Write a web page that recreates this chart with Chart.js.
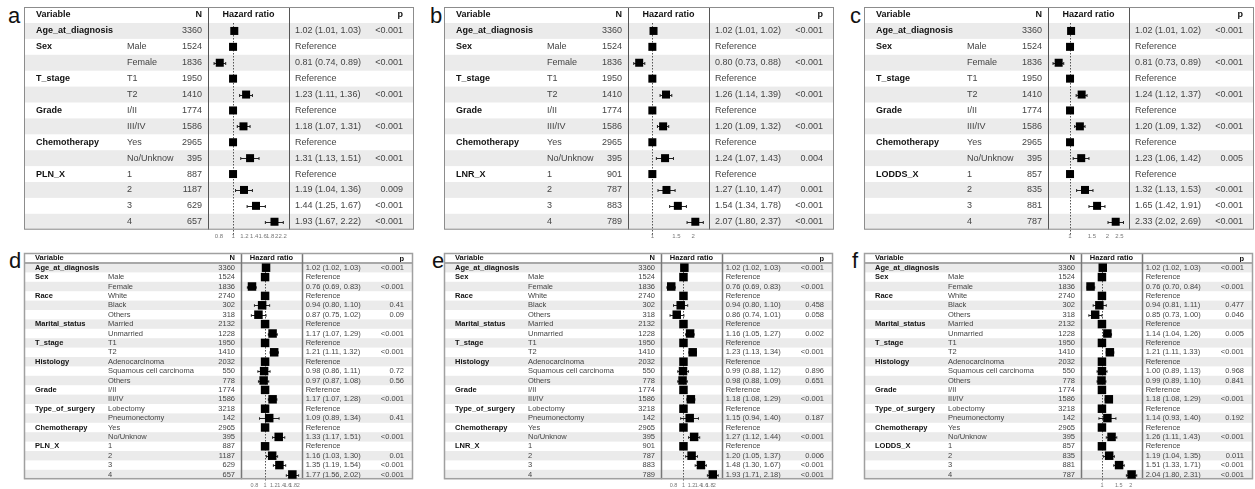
<!DOCTYPE html>
<html>
<head>
<meta charset="utf-8">
<script src="https://cdn.jsdelivr.net/npm/chart.js@4.4.1/dist/chart.umd.min.js"></script>
<style>
  body { margin: 0; background: #fff; width: 1255px; height: 489px; position: relative; overflow: hidden; font-family: "Liberation Sans", Arial, sans-serif; }
  canvas { position: absolute; }
  .tag { position: absolute; font-size: 22px; line-height: 22px; color: #111; }
</style>
</head>
<body>
<div class="tag" style="left:8px;top:5px">a</div>
<div class="tag" style="left:430px;top:5px">b</div>
<div class="tag" style="left:850px;top:5px">c</div>
<div class="tag" style="left:9px;top:250px">d</div>
<div class="tag" style="left:432px;top:250px">e</div>
<div class="tag" style="left:852px;top:250px">f</div>

<canvas id="pa" width="394" height="248" style="left:22px;top:0px"></canvas>
<canvas id="pb" width="394" height="248" style="left:442px;top:0px"></canvas>
<canvas id="pc" width="393" height="248" style="left:862px;top:0px"></canvas>
<canvas id="pd" width="394" height="241" style="left:22px;top:248px"></canvas>
<canvas id="pe" width="394" height="241" style="left:442px;top:248px"></canvas>
<canvas id="pf" width="393" height="241" style="left:862px;top:248px"></canvas>

<script>
// ---- data: top row (a, b, c) ----
const topVars = ['Age_at_diagnosis', 'Sex', '', 'T_stage', '', 'Grade', '', 'Chemotherapy', ''];
const topLevels = ['', 'Male', 'Female', 'T1', 'T2', 'I/II', 'III/IV', 'Yes', 'No/Unknow', '1', '2', '3', '4'];
const topN = [3360, 1524, 1836, 1950, 1410, 1774, 1586, 2965, 395];

// ---- data: bottom row (d, e, f) ----
const botVars = ['Age_at_diagnosis', 'Sex', '', 'Race', '', '', 'Marital_status', '', 'T_stage', '',
  'Histology', '', '', 'Grade', '', 'Type_of_surgery', '', 'Chemotherapy', ''];
const botLevels = ['', 'Male', 'Female', 'White', 'Black', 'Others', 'Married', 'Unmarried', 'T1', 'T2',
  'Adenocarcinoma', 'Squamous cell carcinoma', 'Others', 'I/II', 'III/IV', 'Lobectomy', 'Pneumonectomy',
  'Yes', 'No/Unknow', '1', '2', '3', '4'];
const botN = [3360, 1524, 1836, 2740, 302, 318, 2132, 1228, 1950, 1410, 2032, 550, 778, 1774, 1586, 3218, 142, 2965, 395];

const plnN = [887, 1187, 629, 657];
const lnrN = [901, 787, 883, 789];
const loddsN = [857, 835, 881, 787];

// panel a (PLN_X)
const hrA = [1.02, 1, 0.81, 1, 1.23, 1, 1.18, 1, 1.31, 1, 1.19, 1.44, 1.93];
const loA = [1.01, null, 0.74, null, 1.11, null, 1.07, null, 1.13, null, 1.04, 1.25, 1.67];
const upA = [1.03, null, 0.89, null, 1.36, null, 1.31, null, 1.51, null, 1.36, 1.67, 2.22];
const pA = ['<0.001', '', '<0.001', '', '<0.001', '', '<0.001', '', '<0.001', '', '0.009', '<0.001', '<0.001'];
const ticksA = [0.8, 1, 1.2, 1.4, 1.6, 1.8, 2, 2.2];

// panel b (LNR_X)
const hrB = [1.02, 1, 0.80, 1, 1.26, 1, 1.20, 1, 1.24, 1, 1.27, 1.54, 2.07];
const loB = [1.01, null, 0.73, null, 1.14, null, 1.09, null, 1.07, null, 1.10, 1.34, 1.80];
const upB = [1.02, null, 0.88, null, 1.39, null, 1.32, null, 1.43, null, 1.47, 1.78, 2.37];
const pB = ['<0.001', '', '<0.001', '', '<0.001', '', '<0.001', '', '0.004', '', '0.001', '<0.001', '<0.001'];
const ticksB = [1, 1.5, 2];

// panel c (LODDS_X)
const hrC = [1.02, 1, 0.81, 1, 1.24, 1, 1.20, 1, 1.23, 1, 1.32, 1.65, 2.33];
const loC = [1.01, null, 0.73, null, 1.12, null, 1.09, null, 1.06, null, 1.13, 1.42, 2.02];
const upC = [1.02, null, 0.89, null, 1.37, null, 1.32, null, 1.42, null, 1.53, 1.91, 2.69];
const pC = ['<0.001', '', '<0.001', '', '<0.001', '', '<0.001', '', '0.005', '', '<0.001', '<0.001', '<0.001'];
const ticksC = [1, 1.5, 2, 2.5];

// panel d (PLN_X, full model)
const hrD = [1.02, 1, 0.76, 1, 0.94, 0.87, 1, 1.17, 1, 1.21, 1, 0.98, 0.97, 1, 1.17, 1, 1.09, 1, 1.33, 1, 1.16, 1.35, 1.77];
const loD = [1.02, null, 0.69, null, 0.80, 0.75, null, 1.07, null, 1.11, null, 0.86, 0.87, null, 1.07, null, 0.89, null, 1.17, null, 1.03, 1.19, 1.56];
const upD = [1.03, null, 0.83, null, 1.10, 1.02, null, 1.29, null, 1.32, null, 1.11, 1.08, null, 1.28, null, 1.34, null, 1.51, null, 1.30, 1.54, 2.02];
const pD = ['<0.001', '', '<0.001', '', '0.41', '0.09', '', '<0.001', '', '<0.001', '', '0.72', '0.56', '', '<0.001', '', '0.41', '', '<0.001', '', '0.01', '<0.001', '<0.001'];
const ticksD = [0.8, 1, 1.2, 1.4, 1.6, 1.8, 2];

// panel e (LNR_X, full model)
const hrE = [1.02, 1, 0.76, 1, 0.94, 0.86, 1, 1.16, 1, 1.23, 1, 0.99, 0.98, 1, 1.18, 1, 1.15, 1, 1.27, 1, 1.20, 1.48, 1.93];
const loE = [1.02, null, 0.69, null, 0.80, 0.74, null, 1.05, null, 1.13, null, 0.88, 0.88, null, 1.08, null, 0.94, null, 1.12, null, 1.05, 1.30, 1.71];
const upE = [1.03, null, 0.83, null, 1.10, 1.01, null, 1.27, null, 1.34, null, 1.12, 1.09, null, 1.29, null, 1.40, null, 1.44, null, 1.37, 1.67, 2.18];
const pE = ['<0.001', '', '<0.001', '', '0.458', '0.058', '', '0.002', '', '<0.001', '', '0.896', '0.651', '', '<0.001', '', '0.187', '', '<0.001', '', '0.006', '<0.001', '<0.001'];
const ticksE = [0.8, 1, 1.2, 1.4, 1.6, 1.8, 2];

// panel f (LODDS_X, full model)
const hrF = [1.02, 1, 0.76, 1, 0.94, 0.85, 1, 1.14, 1, 1.21, 1, 1.00, 0.99, 1, 1.18, 1, 1.14, 1, 1.26, 1, 1.19, 1.51, 2.04];
const loF = [1.02, null, 0.70, null, 0.81, 0.73, null, 1.04, null, 1.11, null, 0.89, 0.89, null, 1.08, null, 0.93, null, 1.11, null, 1.04, 1.33, 1.80];
const upF = [1.03, null, 0.84, null, 1.11, 1.00, null, 1.26, null, 1.33, null, 1.13, 1.10, null, 1.29, null, 1.40, null, 1.43, null, 1.35, 1.71, 2.31];
const pF = ['<0.001', '', '<0.001', '', '0.477', '0.046', '', '0.005', '', '<0.001', '', '0.968', '0.841', '', '<0.001', '', '0.192', '', '<0.001', '', '0.011', '<0.001', '<0.001'];
const ticksF = [1, 1.5, 2];

// ---- layout ----
const FONT = '"Liberation Sans", Arial, sans-serif';

const topLayout = {
  tableLeft: 2, tableTop: 7, headH: 16, rowH: 15.9,
  cols: { v: 12, lvl: 103, nRight: 178, hrL: 184, hrR: 265, est: 271, pRight: 379, right: 390 },
  font: 9, tickFont: 6, tickPad: 3, box: 8, cap: 3,
  outer: '#8c8c8c', outerW: 1, sep: '#555', sepW: 1, headLine: null, pShift: 0, dotExt: 5
};
const botLayout = {
  tableLeft: 2, tableTop: 5, headH: 10, rowH: 9.4,
  cols: { v: 11, lvl: 84, nRight: 211, hrL: 216.7, hrR: 278.3, est: 281.7, pRight: 380, right: 389 },
  font: 7.5, tickFont: 5.5, tickPad: 3, box: 8.5, cap: 2.5,
  outer: '#a0a0a0', outerW: 1.5, sep: '#777', sepW: 1.5, headLine: '#a8a8a8', pShift: 1, dotExt: 3
};

const fmt = v => v.toFixed(2);

function makeForest(id, L, d) {
  const canvas = document.getElementById(id);
  const nRows = d.hr.length;
  const c = L.cols;
  const x0 = L.tableLeft;
  const bodyTop = L.tableTop + L.headH;
  const bodyBot = bodyTop + nRows * L.rowH;
  const axisH = canvas.height - bodyBot;

  const tablePlugin = {
    id: 'forestTable',
    beforeDatasetsDraw(chart) {
      const ctx = chart.ctx;
      const xs = chart.scales.x;
      const ys = chart.scales.y;
      ctx.save();

      // zebra bands
      ctx.fillStyle = '#ebebeb';
      for (let i = 0; i < nRows; i += 2) {
        ctx.fillRect(x0, bodyTop + i * L.rowH, c.right, L.rowH);
      }

      // header
      ctx.textBaseline = 'middle';
      ctx.fillStyle = '#111';
      ctx.font = `bold ${L.font}px ${FONT}`;
      const hy = L.tableTop + L.headH / 2;
      ctx.textAlign = 'left';
      ctx.fillText('Variable', x0 + c.v, hy);
      ctx.textAlign = 'right';
      ctx.fillText('N', x0 + c.nRight, hy);
      ctx.textAlign = 'center';
      ctx.fillText('Hazard ratio', x0 + (c.hrL + c.hrR) / 2, hy);
      ctx.textAlign = 'right';
      ctx.fillText('p', x0 + c.pRight, hy + L.pShift);

      // body text
      for (let i = 0; i < nRows; i++) {
        const y = ys.getPixelForValue(i);
        if (d.vars[i]) {
          ctx.font = `bold ${L.font}px ${FONT}`;
          ctx.fillStyle = '#111';
          ctx.textAlign = 'left';
          ctx.fillText(d.vars[i], x0 + c.v, y);
        }
        ctx.font = `${L.font}px ${FONT}`;
        ctx.fillStyle = '#444';
        ctx.textAlign = 'left';
        ctx.fillText(d.levels[i], x0 + c.lvl, y);
        ctx.textAlign = 'right';
        ctx.fillText(String(d.n[i]), x0 + c.nRight, y);
        ctx.textAlign = 'left';
        const est = d.lo[i] == null ? 'Reference' : `${fmt(d.hr[i])} (${fmt(d.lo[i])}, ${fmt(d.up[i])})`;
        ctx.fillText(est, x0 + c.est, y);
        ctx.textAlign = 'right';
        ctx.fillText(d.p[i], x0 + c.pRight, y);
      }

      // reference line at HR = 1
      const x1 = Math.round(xs.getPixelForValue(1)) + 0.5;
      ctx.strokeStyle = '#555';
      ctx.lineWidth = 1;
      ctx.setLineDash([1.5, 1.5]);
      ctx.beginPath();
      ctx.moveTo(x1, bodyTop);
      ctx.lineTo(x1, bodyBot + L.dotExt);
      ctx.stroke();
      ctx.setLineDash([]);

      // confidence intervals
      ctx.strokeStyle = '#222';
      ctx.lineWidth = 1;
      for (let i = 0; i < nRows; i++) {
        if (d.lo[i] == null) continue;
        const y = Math.round(ys.getPixelForValue(i)) + 0.5;
        const a = xs.getPixelForValue(d.lo[i]);
        const b = xs.getPixelForValue(d.up[i]);
        ctx.beginPath();
        ctx.moveTo(a, y); ctx.lineTo(b, y);
        ctx.moveTo(a, y - L.cap / 2); ctx.lineTo(a, y + L.cap / 2);
        ctx.moveTo(b, y - L.cap / 2); ctx.lineTo(b, y + L.cap / 2);
        ctx.stroke();
      }

      // header rule (bottom panels)
      if (L.headLine) {
        ctx.strokeStyle = L.headLine;
        ctx.lineWidth = 2;
        ctx.beginPath();
        ctx.moveTo(x0, bodyTop);
        ctx.lineTo(x0 + c.right, bodyTop);
        ctx.stroke();
      }

      // column separators
      ctx.strokeStyle = L.sep;
      ctx.lineWidth = L.sepW;
      ctx.beginPath();
      [c.hrL, c.hrR].forEach(cx => {
        const xx = Math.round(x0 + cx) + 0.5;
        ctx.moveTo(xx, L.tableTop); ctx.lineTo(xx, bodyBot);
      });
      ctx.stroke();

      // outer frame
      ctx.strokeStyle = L.outer;
      ctx.lineWidth = L.outerW;
      ctx.strokeRect(x0 + 0.5, L.tableTop + 0.5, c.right - 1, bodyBot - L.tableTop - 1);

      ctx.restore();
    }
  };

  new Chart(canvas, {
    type: 'scatter',
    data: {
      datasets: [{
        data: d.hr.map((v, i) => ({ x: v, y: i })),
        pointStyle: 'rect',
        pointRadius: L.box / (2 * Math.SQRT1_2),
        pointHoverRadius: L.box / (2 * Math.SQRT1_2),
        backgroundColor: '#000',
        borderWidth: 0,
        clip: false
      }]
    },
    options: {
      responsive: false,
      animation: false,
      devicePixelRatio: 1,
      events: [],
      layout: {
        padding: {
          left: x0 + c.hrL,
          right: canvas.width - (x0 + c.hrR),
          top: bodyTop,
          bottom: 0
        }
      },
      plugins: { legend: { display: false }, tooltip: { enabled: false } },
      scales: {
        x: {
          type: 'logarithmic',
          min: d.xmin,
          max: d.xmax,
          grid: { display: false, drawTicks: false },
          border: { display: false },
          afterBuildTicks: s => { s.ticks = d.ticks.map(v => ({ value: v })); },
          afterFit: s => { s.height = axisH; },
          ticks: {
            autoSkip: false, maxRotation: 0, minRotation: 0,
            padding: L.tickPad, color: '#777',
            font: { size: L.tickFont, family: FONT },
            callback: v => String(v)
          }
        },
        y: {
          type: 'linear',
          min: -0.5,
          max: nRows - 0.5,
          reverse: true,
          display: false
        }
      }
    },
    plugins: [tablePlugin]
  });
}

const tail = ['', '', ''];

makeForest('pa', topLayout, {
  vars: topVars.concat(['PLN_X'], tail), levels: topLevels, n: topN.concat(plnN),
  hr: hrA, lo: loA, up: upA, p: pA, ticks: ticksA, xmin: 0.672, xmax: 2.43
});
makeForest('pb', topLayout, {
  vars: topVars.concat(['LNR_X'], tail), levels: topLevels, n: topN.concat(lnrN),
  hr: hrB, lo: loB, up: upB, p: pB, ticks: ticksB, xmin: 0.662, xmax: 2.61
});
makeForest('pc', topLayout, {
  vars: topVars.concat(['LODDS_X'], tail), levels: topLevels, n: topN.concat(loddsN),
  hr: hrC, lo: loC, up: upC, p: pC, ticks: ticksC, xmin: 0.665, xmax: 2.98
});
makeForest('pd', botLayout, {
  vars: botVars.concat(['PLN_X'], tail), levels: botLevels, n: botN.concat(plnN),
  hr: hrD, lo: loD, up: upD, p: pD, ticks: ticksD, xmin: 0.636, xmax: 2.18
});
makeForest('pe', botLayout, {
  vars: botVars.concat(['LNR_X'], tail), levels: botLevels, n: botN.concat(lnrN),
  hr: hrE, lo: loE, up: upE, p: pE, ticks: ticksE, xmin: 0.625, xmax: 2.39
});
makeForest('pf', botLayout, {
  vars: botVars.concat(['LODDS_X'], tail), levels: botLevels, n: botN.concat(loddsN),
  hr: hrF, lo: loF, up: upF, p: pF, ticks: ticksF, xmin: 0.641, xmax: 2.64
});
</script>
</body>
</html>
